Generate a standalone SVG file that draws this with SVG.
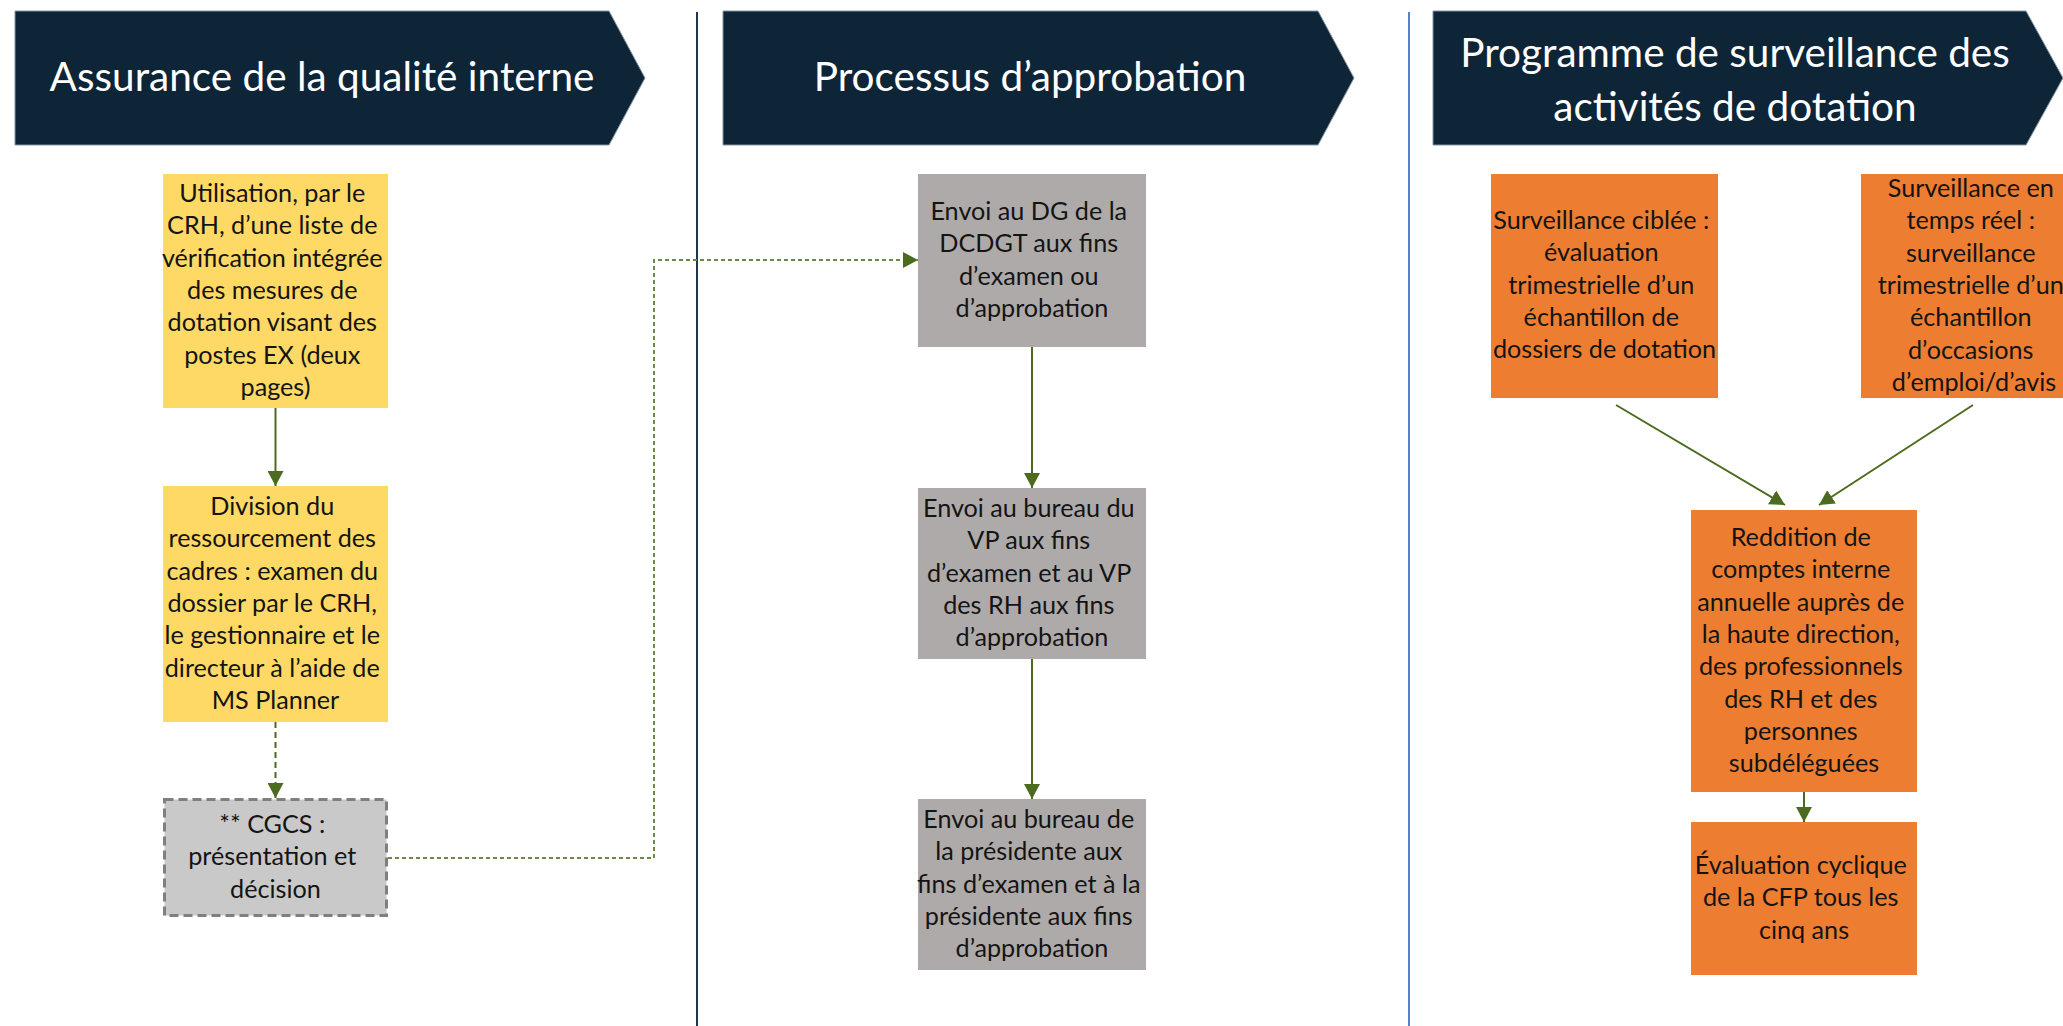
<svg xmlns="http://www.w3.org/2000/svg" width="2063" height="1026" viewBox="0 0 2063 1026">
  <style>
    .hdr { fill: #0d2537; stroke: #8394a3; stroke-width: 1; }
    .htxt { font-family: Lato, "Liberation Sans", sans-serif; font-size: 40.5px; fill: #ffffff; text-anchor: middle; }
    .btxt { font-family: Lato, "Liberation Sans", sans-serif; font-size: 25.2px; fill: #141414; text-anchor: middle; }
    .yellow { fill: #ffd966; }
    .grey { fill: #aeaaaa; }
    .cgcs { fill: #c9c9c9; stroke: #7f7f7f; stroke-width: 3; stroke-dasharray: 9 5; }
    .orange { fill: #ed7d31; }
    .conn { fill: none; stroke: #4c6b1f; stroke-width: 2; marker-end: url(#arr); }
    .dash { stroke-dasharray: 6 4; }
    .dot { stroke: #6a8a4a; stroke-dasharray: 4 3; }
  </style>
  <defs>
    <marker id="arr" markerUnits="userSpaceOnUse" markerWidth="16" markerHeight="16" refX="15" refY="8" orient="auto">
      <path d="M0,0 L15,8 L0,16 z" fill="#4c6b1f"/>
    </marker>
  </defs>
  <rect x="0" y="0" width="2063" height="1026" fill="#ffffff"/>

  <!-- dividers -->
  <g id="dividers">
    <line x1="697" y1="12" x2="697" y2="1026" stroke="#1f3550" stroke-width="2"/>
    <line x1="1409" y1="12" x2="1409" y2="1026" stroke="#5b7fcf" stroke-width="2"/>
  </g>

  <!-- headers -->
  <g id="header-1">
    <polygon class="hdr" points="15,11 609,11 645,78 609,145 15,145"/>
    <text class="htxt" x="322" y="91">Assurance de la qualité interne</text>
  </g>
  <g id="header-2">
    <polygon class="hdr" points="723,11 1318,11 1354,78 1318,145 723,145"/>
    <text class="htxt" x="1030" y="91">Processus d’approbation</text>
  </g>
  <g id="header-3">
    <polygon class="hdr" points="1433,11 2026,11 2063,78 2026,145 1433,145"/>
    <text class="htxt" x="1735" y="67">Programme de surveillance des</text>
    <text class="htxt" x="1735" y="121">activités de dotation</text>
  </g>

  <!-- connectors -->
  <g id="connectors">
    <line class="conn" x1="275.5" y1="408" x2="275.5" y2="486"/>
    <line class="conn dash" x1="275.5" y1="722" x2="275.5" y2="798"/>
    <path class="conn dot" d="M388,858 H654 V260 H918"/>
    <line class="conn" x1="1032" y1="347" x2="1032" y2="488"/>
    <line class="conn" x1="1032" y1="659" x2="1032" y2="799"/>
    <line class="conn" x1="1616" y1="405" x2="1785" y2="505"/>
    <line class="conn" x1="1973" y1="405" x2="1819" y2="505"/>
    <line class="conn" x1="1804" y1="792" x2="1804" y2="822"/>
  </g>

  <!-- column 1 -->
  <g id="node-checklist">
    <rect class="yellow" x="163" y="174" width="225" height="234"/>
    <text class="btxt" y="202">
      <tspan x="275.5">Utilisation, par le</tspan>
      <tspan x="275.5" dy="32.3">CRH, d’une liste de</tspan>
      <tspan x="275.5" dy="32.3">vérification intégrée</tspan>
      <tspan x="275.5" dy="32.3">des mesures de</tspan>
      <tspan x="275.5" dy="32.3">dotation visant des</tspan>
      <tspan x="275.5" dy="32.3">postes EX (deux</tspan>
      <tspan x="275.5" dy="32.3">pages)</tspan>
    </text>
  </g>
  <g id="node-division">
    <rect class="yellow" x="163" y="486" width="225" height="236"/>
    <text class="btxt" y="515">
      <tspan x="275.5">Division du</tspan>
      <tspan x="275.5" dy="32.3">ressourcement des</tspan>
      <tspan x="275.5" dy="32.3">cadres : examen du</tspan>
      <tspan x="275.5" dy="32.3">dossier par le CRH,</tspan>
      <tspan x="275.5" dy="32.3">le gestionnaire et le</tspan>
      <tspan x="275.5" dy="32.3">directeur à l’aide de</tspan>
      <tspan x="275.5" dy="32.3">MS Planner</tspan>
    </text>
  </g>
  <g id="node-cgcs">
    <rect class="cgcs" x="164.5" y="799.5" width="222" height="116"/>
    <text class="btxt" y="833">
      <tspan x="275.5">** CGCS :</tspan>
      <tspan x="275.5" dy="32.3">présentation et</tspan>
      <tspan x="275.5" dy="32.3">décision</tspan>
    </text>
  </g>

  <!-- column 2 -->
  <g id="node-dg">
    <rect class="grey" x="918" y="174" width="228" height="173"/>
    <text class="btxt" y="220">
      <tspan x="1032">Envoi au DG de la</tspan>
      <tspan x="1032" dy="32.3">DCDGT aux fins</tspan>
      <tspan x="1032" dy="32.3">d’examen ou</tspan>
      <tspan x="1032" dy="32.3">d’approbation</tspan>
    </text>
  </g>
  <g id="node-vp">
    <rect class="grey" x="918" y="488" width="228" height="171"/>
    <text class="btxt" y="517">
      <tspan x="1032">Envoi au bureau du</tspan>
      <tspan x="1032" dy="32.3">VP aux fins</tspan>
      <tspan x="1032" dy="32.3">d’examen et au VP</tspan>
      <tspan x="1032" dy="32.3">des RH aux fins</tspan>
      <tspan x="1032" dy="32.3">d’approbation</tspan>
    </text>
  </g>
  <g id="node-presidente">
    <rect class="grey" x="918" y="799" width="228" height="171"/>
    <text class="btxt" y="828">
      <tspan x="1032">Envoi au bureau de</tspan>
      <tspan x="1032" dy="32.3">la présidente aux</tspan>
      <tspan x="1032" dy="32.3">fins d’examen et à la</tspan>
      <tspan x="1032" dy="32.3">présidente aux fins</tspan>
      <tspan x="1032" dy="32.3">d’approbation</tspan>
    </text>
  </g>

  <!-- column 3 -->
  <g id="node-ciblee">
    <rect class="orange" x="1491" y="174" width="227" height="224"/>
    <text class="btxt" y="229">
      <tspan x="1604.5">Surveillance ciblée :</tspan>
      <tspan x="1604.5" dy="32.3">évaluation</tspan>
      <tspan x="1604.5" dy="32.3">trimestrielle d’un</tspan>
      <tspan x="1604.5" dy="32.3">échantillon de</tspan>
      <tspan x="1604.5" dy="32.3">dossiers de dotation</tspan>
    </text>
  </g>
  <g id="node-temps-reel">
    <rect class="orange" x="1861" y="174" width="227" height="224"/>
    <text class="btxt" y="197">
      <tspan x="1974">Surveillance en</tspan>
      <tspan x="1974" dy="32.3">temps réel :</tspan>
      <tspan x="1974" dy="32.3">surveillance</tspan>
      <tspan x="1974" dy="32.3">trimestrielle d’un</tspan>
      <tspan x="1974" dy="32.3">échantillon</tspan>
      <tspan x="1974" dy="32.3">d’occasions</tspan>
      <tspan x="1974" dy="32.3">d’emploi/d’avis</tspan>
    </text>
  </g>
  <g id="node-reddition">
    <rect class="orange" x="1691" y="510" width="226" height="282"/>
    <text class="btxt" y="546">
      <tspan x="1804">Reddition de</tspan>
      <tspan x="1804" dy="32.3">comptes interne</tspan>
      <tspan x="1804" dy="32.3">annuelle auprès de</tspan>
      <tspan x="1804" dy="32.3">la haute direction,</tspan>
      <tspan x="1804" dy="32.3">des professionnels</tspan>
      <tspan x="1804" dy="32.3">des RH et des</tspan>
      <tspan x="1804" dy="32.3">personnes</tspan>
      <tspan x="1804" dy="32.3">subdéléguées</tspan>
    </text>
  </g>
  <g id="node-evaluation">
    <rect class="orange" x="1691" y="822" width="226" height="153"/>
    <text class="btxt" y="874">
      <tspan x="1804">Évaluation cyclique</tspan>
      <tspan x="1804" dy="32.3">de la CFP tous les</tspan>
      <tspan x="1804" dy="32.3">cinq ans</tspan>
    </text>
  </g>
</svg>
